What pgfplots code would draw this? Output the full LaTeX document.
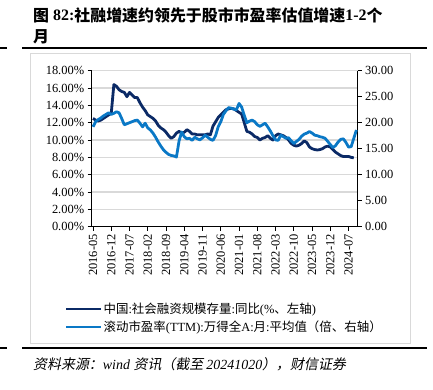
\documentclass[border=0pt]{standalone}
\usepackage{pgfplots}
\pgfplotsset{compat=1.18}
\usepackage{pgfplotstable}
\usepackage{fontspec}
\setmainfont{Liberation Serif}
\newfontfamily\cjk{Noto Sans CJK SC}
\newfontfamily\cjkit{Noto Sans CJK SC}[FakeSlant=0.2]
\definecolor{navy}{HTML}{0B2A66}
\definecolor{sky}{HTML}{0A78C6}
\definecolor{gridc}{HTML}{D9D9D9}

\pgfplotstableread{
m v
0 12.5
1 12.3
2 12.2
3 12.3
4 12.5
5 12.7
6 12.9
7 13.1
8 16.4
9 16.2
10 15.8
11 15.6
12 15.5
13 15.0
14 15.5
15 15.2
16 14.9
17 14.9
18 14.3
19 13.8
20 13.4
21 12.9
22 12.7
23 12.5
24 12.2
25 11.7
26 11.4
27 11.2
28 10.9
29 10.5
30 10.2
31 10.4
32 10.8
33 11.0
34 10.8
35 10.9
36 11.2
37 11.0
38 10.7
39 10.7
40 10.6
41 10.6
42 10.6
43 10.6
44 10.7
45 10.6
46 11.6
47 12.1
48 12.6
49 12.9
50 13.2
51 13.5
52 13.6
53 13.65
54 13.6
55 13.4
56 13.2
57 13.0
58 12.0
59 11.0
60 10.9
61 10.7
62 10.4
63 10.3
64 10.0
65 10.2
66 10.3
67 10.5
68 10.2
69 10.0
70 10.5
71 10.7
72 10.6
73 10.5
74 10.3
75 10.0
76 9.6
77 9.4
78 9.3
79 9.4
80 9.6
81 9.9
82 9.7
83 9.2
84 9.0
85 8.9
86 8.85
87 8.9
88 9.0
89 9.2
90 9.3
91 9.2
92 8.9
93 8.6
94 8.4
95 8.2
96 8.1
97 8.1
98 8.1
99 8.0
100 7.95
}\sfdata

\pgfplotstableread{
m v
0 19.2
1 20.2
2 20.6
3 20.9
4 21.3
5 21.6
6 21.9
7 21.6
8 21.8
9 22.1
10 21.9
11 20.8
12 19.6
13 19.8
14 20.0
15 20.2
16 20.4
17 20.5
18 19.9
19 19.2
20 19.9
21 19.0
22 18.6
23 18.0
24 17.2
25 16.3
26 15.5
27 14.8
28 14.3
29 13.9
30 13.7
31 13.6
32 13.4
33 16.5
34 18.2
35 17.3
36 16.9
37 17.0
38 16.6
39 17.2
40 16.9
41 16.7
42 17.1
43 17.6
44 17.2
45 16.8
46 16.6
47 17.5
48 19.2
49 20.2
50 21.6
51 22.3
52 22.9
53 22.8
54 22.6
55 22.5
56 23.7
57 23.0
58 21.4
59 20.0
60 20.3
61 20.5
62 20.2
63 19.6
64 19.3
65 19.6
66 19.9
67 19.2
68 18.4
69 17.5
70 16.7
71 16.6
72 17.6
73 17.3
74 17.0
75 17.1
76 16.5
77 16.0
78 16.4
79 16.8
80 17.4
81 17.8
82 18.0
83 18.3
84 18.0
85 17.6
86 17.5
87 17.3
88 17.2
89 17.0
90 16.4
91 15.8
92 15.2
93 15.6
94 16.3
95 16.8
96 16.9
97 16.2
98 15.3
99 15.4
100 17.0
101 18.6
}\pedata

\begin{document}
\begin{tikzpicture}[x=1bp,y=1bp]
\path[use as bounding box] (0,0) rectangle (433,389);
% title
\node[anchor=base west, inner sep=0, font=\fontsize{16}{19}\selectfont\bfseries] at (33,389-21)
  {{\cjk 图} 82:{\cjk 社融增速约领先于股市市盈率估值增速}1-2{\cjk 个}};
\node[anchor=base west, inner sep=0, font=\fontsize{16}{19}\selectfont\bfseries] at (33,389-42) {{\cjk 月}};
% rules
\draw[line width=1.2bp] (22,389-48) -- (427,389-48);
\draw[line width=1.2bp] (22,389-348) -- (427,389-348);
\draw[line width=1.2bp] (0,389-48) -- (7,389-48);
\draw[line width=1.2bp] (0,389-348) -- (7,389-348);
% frame
\draw[gridc, line width=0.8bp] (30,389-343) rectangle (410,389-53);
% source
\node[anchor=base west, inner sep=0, font=\fontsize{14}{16}\selectfont] at (33,389-369)
  {{\cjkit 资料来源：}\textit{wind }{\cjkit 资讯（截至 }\textit{20241020}{\cjkit ），财信证券}};

\begin{axis}[
  at={(91.7bp,162.3bp)}, anchor=south west,
  width=266bp, height=156bp, scale only axis,
  xmin=-0.5, xmax=101.5, ymin=0, ymax=18,
  axis x line*=bottom, axis y line*=left,
  axis line style={-, black, line width=0.8bp},
  tick align=outside, major tick length=4bp,
  tick style={black, line width=0.8bp},
  xtick={0,7,...,98},
  xticklabels={2016-05,2016-12,2017-07,2018-02,2018-09,2019-04,2019-11,2020-06,2021-01,2021-08,2022-03,2022-10,2023-05,2023-12,2024-07},
  xticklabel style={rotate=90, anchor=east, font=\fontsize{12.5}{14}\selectfont},
  ytick={0,2,...,18},
  yticklabels={0.00\%,2.00\%,4.00\%,6.00\%,8.00\%,10.00\%,12.00\%,14.00\%,16.00\%,18.00\%},
  yticklabel style={font=\fontsize{12.5}{14}\selectfont},
  ymajorgrids, grid style={gridc, line width=1.2bp},
  legend style={at={(-0.112,-0.465)}, anchor=north west, draw=none, fill=none,
    font=\fontsize{12.5}{15}\selectfont, row sep=3bp,
    nodes={inner xsep=1bp, inner ysep=1.5bp}},
  legend cell align=left,
  legend image code/.code={\draw[#1, line width=2.5bp] (0bp,0bp) -- (35bp,0bp);},
]
\addplot[navy, line width=2.8bp, line join=round] table[x=m, y=v] {\sfdata};
\addlegendentry{{\cjk 中国}:{\cjk 社会融资规模存量}:{\cjk 同比}(\%{\cjk 、左轴})}
\addlegendimage{sky, line width=2.5bp}
\addlegendentry{{\cjk 滚动市盈率}(TTM):{\cjk 万得全}A:{\cjk 月}:{\cjk 平均值（倍、右轴）}}
\end{axis}

\begin{axis}[
  at={(91.7bp,162.3bp)}, anchor=south west,
  width=266bp, height=156bp, scale only axis,
  xmin=-0.5, xmax=101.5, ymin=0, ymax=30,
  axis x line=none, axis y line*=right,
  axis line style={-, black, line width=0.8bp},
  tick align=outside, major tick length=4bp,
  tick style={black, line width=0.8bp},
  ytick={0,5,...,30},
  yticklabels={0.00,5.00,10.00,15.00,20.00,25.00,30.00},
  yticklabel style={font=\fontsize{12.5}{14}\selectfont},
]
\addplot[sky, line width=2.8bp, line join=round] table[x=m, y=v] {\pedata};
\end{axis}
\end{tikzpicture}
\end{document}
